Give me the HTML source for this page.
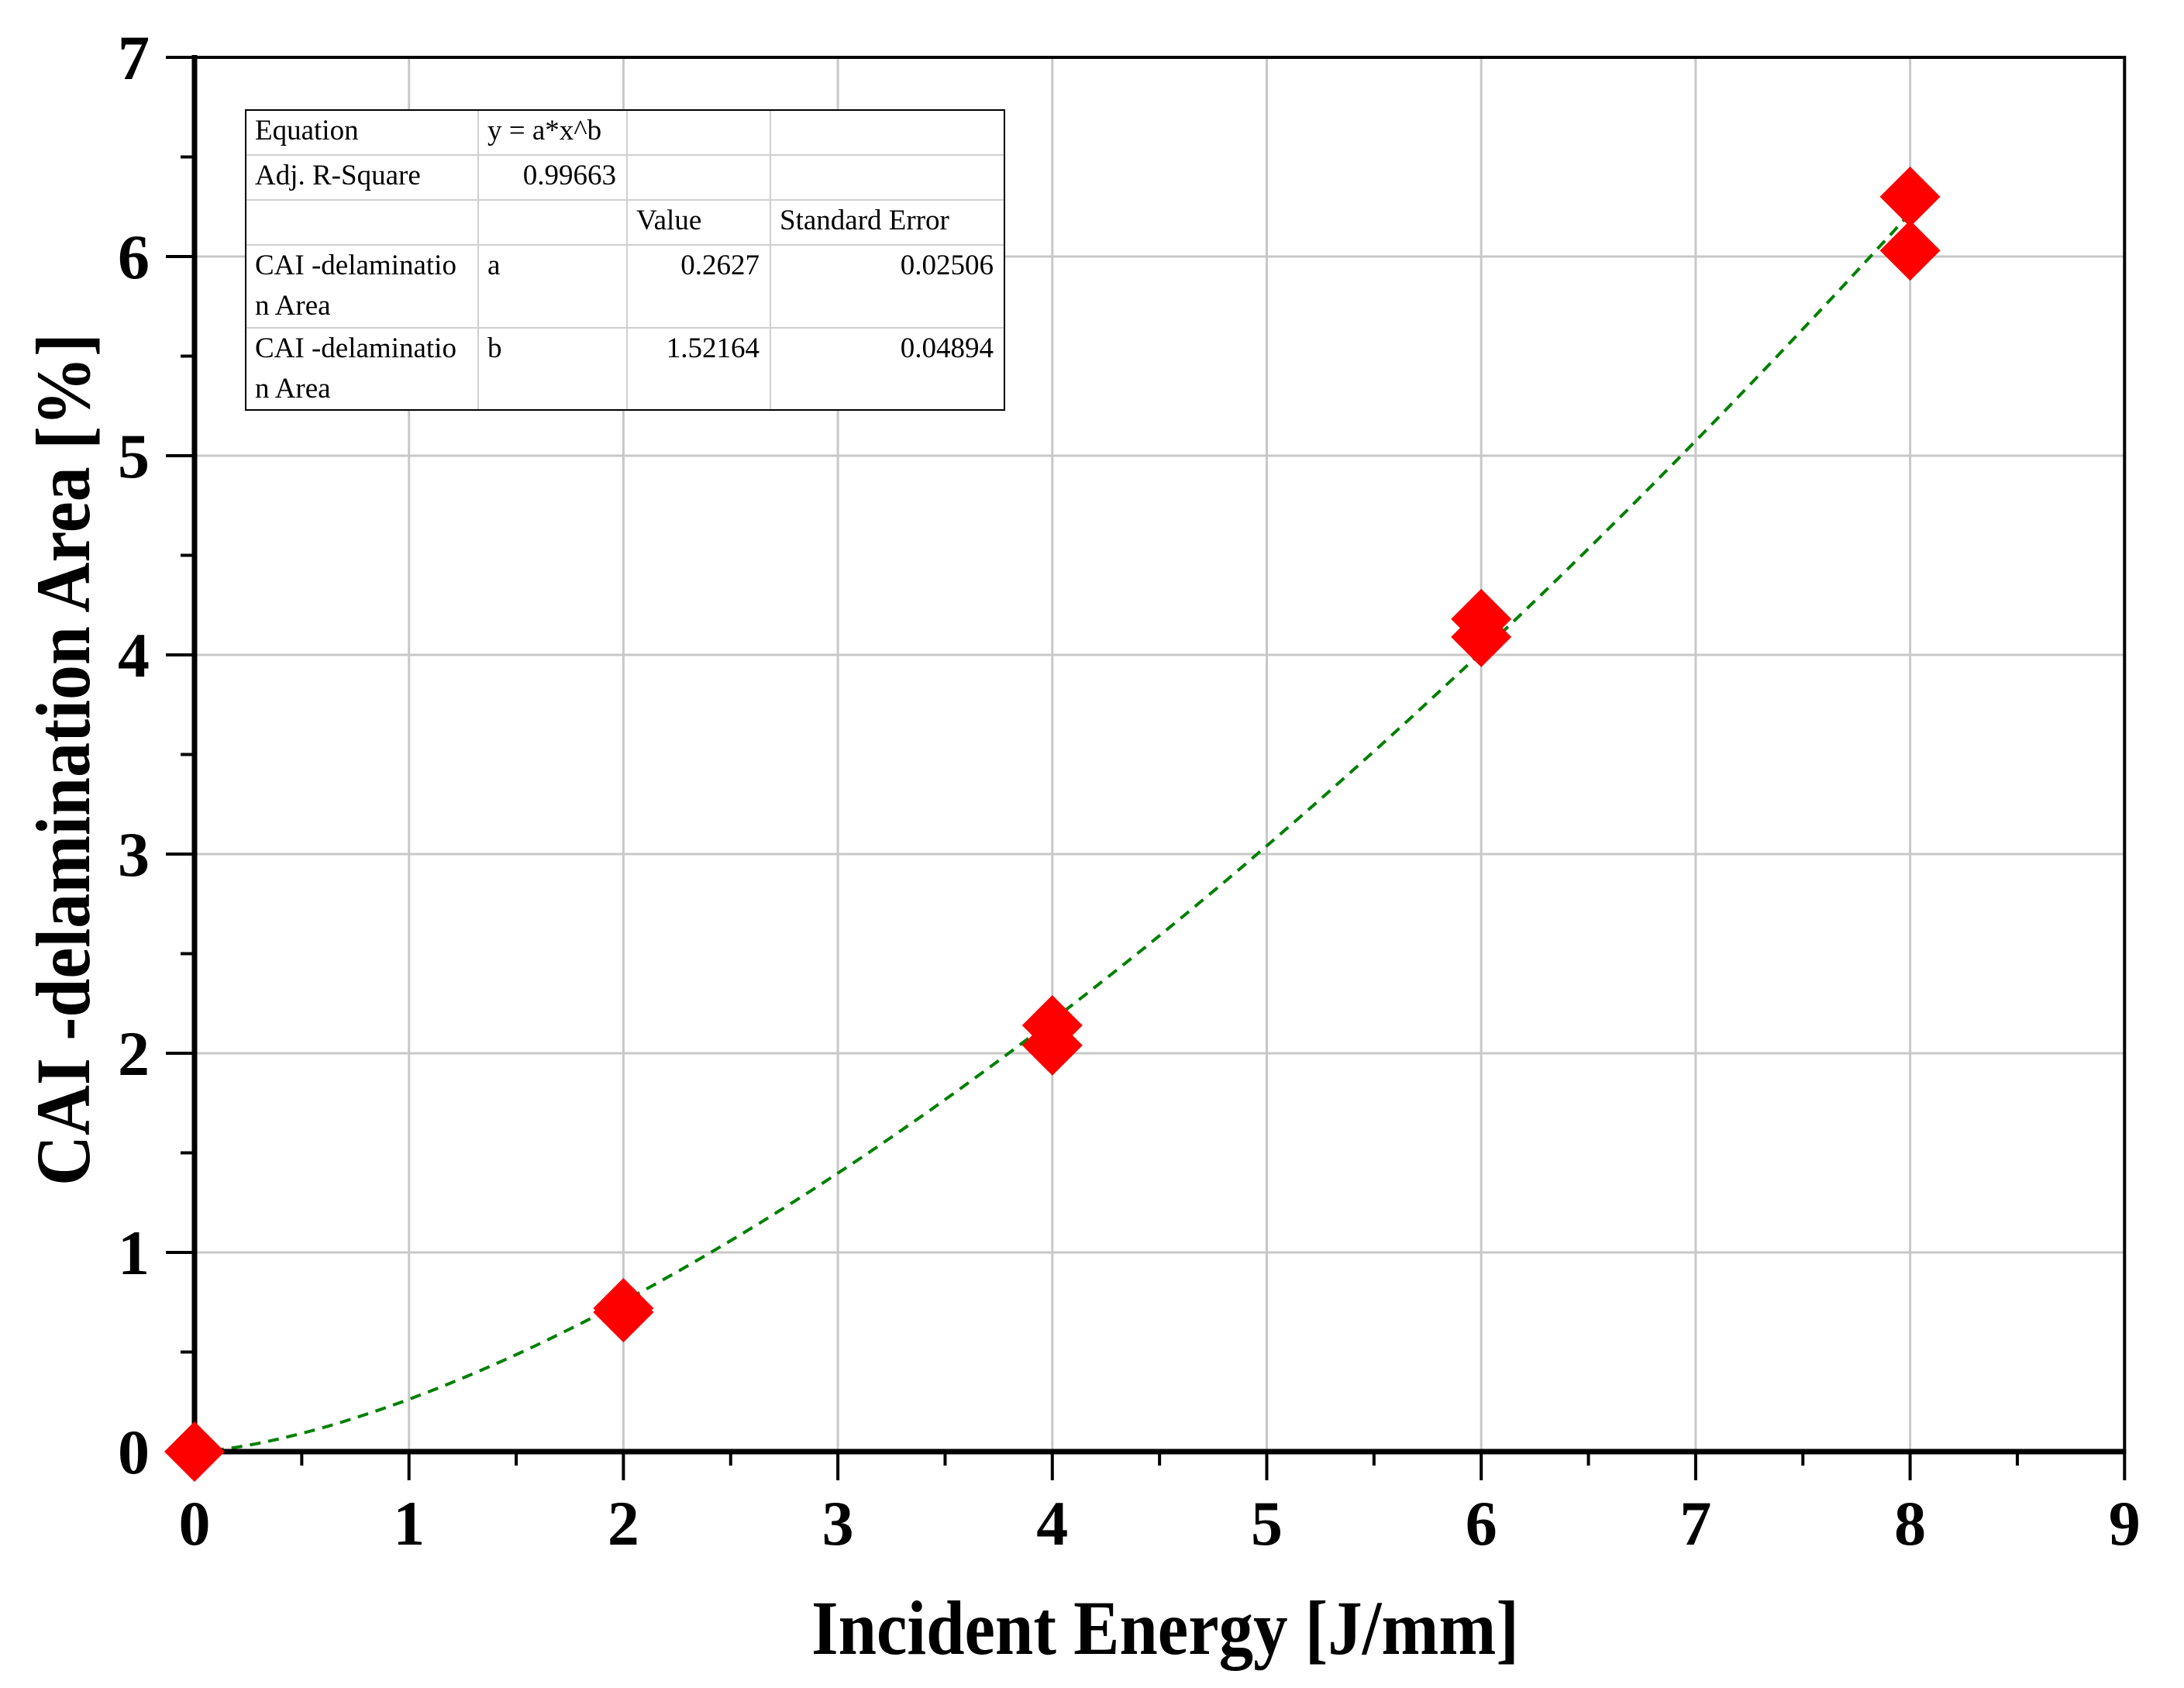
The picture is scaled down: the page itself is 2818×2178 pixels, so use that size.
<!DOCTYPE html>
<html><head><meta charset="utf-8"><style>
html,body{margin:0;padding:0;background:#fff;}
svg{display:block;}
</style></head><body>
<svg id="chart" width="2818" height="2178" viewBox="0 0 2818 2178" xmlns="http://www.w3.org/2000/svg" font-family="'Liberation Serif', serif">
<rect x="0" y="0" width="2818" height="2178" fill="#fff"/>
<g id="grid"></g>
<g id="fit"></g>
<g id="axes"></g>
<g id="points"></g>
<g id="table"></g>
<text x="1047" y="2134" font-size="100" font-weight="bold" textLength="913" lengthAdjust="spacingAndGlyphs">Incident Energy [J/mm]</text>
<text transform="translate(115,1530) rotate(-90)" font-size="100" font-weight="bold" textLength="1100" lengthAdjust="spacingAndGlyphs">CAI -delamination Area [%]</text>
</svg>
<script>
const xTicks = [0,1,2,3,4,5,6,7,8,9];
const yTicks = [0,1,2,3,4,5,6,7];
const xData = [0,2,2,4,4,6,6,8,8];
const yData = [0,0.72,0.70,2.14,2.04,4.18,4.09,6.30,6.03];
const fitA = [0.2627];
const fitB = [1.52164];

const NS='http://www.w3.org/2000/svg';
const X0=251, XU=276.7, Y0=1873, YU=257;
const sx=v=>X0+v*XU, sy=v=>Y0-v*YU;
function mk(tag,attrs,parent){const e=document.createElementNS(NS,tag);for(const k in attrs)e.setAttribute(k,attrs[k]);parent.appendChild(e);return e;}
const grid=document.getElementById('grid'), axes=document.getElementById('axes'), pts=document.getElementById('points'), fit=document.getElementById('fit'), tbl=document.getElementById('table');

xTicks.forEach(t=>{
  if(t>0&&t<9){const l=mk('line',{x1:sx(t),x2:sx(t),y1:sy(7),y2:sy(0),stroke:'#c8c8c8','stroke-width':3},grid);
  
  }
  const tk=mk('line',{x1:sx(t),x2:sx(t),y1:Y0,y2:Y0+37,stroke:'#000','stroke-width':4},axes);
  
  
  if(t<9){const m=mk('line',{x1:sx(t+0.5),x2:sx(t+0.5),y1:Y0,y2:Y0+18,stroke:'#000','stroke-width':4},axes);
  
  }
  const tx=mk('text',{x:sx(t),y:1993,'font-size':82,'font-weight':'bold','text-anchor':'middle'},axes);
  tx.textContent=t;
  
  
});
yTicks.forEach(t=>{
  if(t>0&&t<7){const l=mk('line',{x1:sx(0),x2:sx(9),y1:sy(t),y2:sy(t),stroke:'#c8c8c8','stroke-width':3},grid);
  
  }
  const tk=mk('line',{x1:X0-37,x2:X0,y1:sy(t),y2:sy(t),stroke:'#000','stroke-width':4},axes);
  
  
  if(t<7){const m=mk('line',{x1:X0-18,x2:X0,y1:sy(t+0.5),y2:sy(t+0.5),stroke:'#000','stroke-width':4},axes);
  
  }
  const tx=mk('text',{x:193,y:sy(t)+28,'font-size':82,'font-weight':'bold','text-anchor':'end'},axes);
  tx.textContent=t;
  
  
});
const fr=mk('rect',{x:sx(0),y:sy(7),width:sx(9)-sx(0),height:sy(0)-sy(7),fill:'none',stroke:'#000','stroke-width':4},axes);


const xa=mk('line',{x1:X0-3,x2:sx(9)+2,y1:Y0,y2:Y0,stroke:'#000','stroke-width':7},axes);


const ya=mk('line',{x1:X0,x2:X0,y1:sy(7)-3,y2:Y0+3,stroke:'#000','stroke-width':7},axes);



let d='';
for(let i=0;i<=200;i++){const x=8*i/200;const y=fitA[0]*Math.pow(x,fitB[0]);d+=(i?'L':'M')+sx(x).toFixed(1)+','+sy(y).toFixed(1);}
const fp=mk('path',{d:d,fill:'none',stroke:'#008000','stroke-width':4,'stroke-dasharray':'14,10'},fit);



xData.forEach((x,i)=>{
  const cx=sx(x),cy=sy(yData[i]),h=39;
  const p=mk('polygon',{points:`${cx},${cy-h} ${cx+h},${cy} ${cx},${cy+h} ${cx-h},${cy}`,fill:'#ff0000'},pts);
  
  
});

// table
const cols=[317,617,809,994,1296], rows=[142,200,258,316,423,529];
const bg=mk('rect',{x:317,y:142,width:979,height:387,fill:'#fff',stroke:'#000','stroke-width':2},tbl);


rows.slice(1,-1).forEach(r=>{const l=mk('line',{x1:318,x2:1295,y1:r,y2:r,stroke:'#d0d0d0','stroke-width':2},tbl);

});
cols.slice(1,-1).forEach(c=>{const l=mk('line',{x1:c,x2:c,y1:143,y2:528,stroke:'#d0d0d0','stroke-width':2},tbl);

});
const cells=[
 [0,0,'Equation','start'],[1,0,'y = a*x^b','start'],
 [0,1,'Adj. R-Square','start'],[1,1,'0.99663','end'],
 [2,2,'Value','start'],[3,2,'Standard Error','start'],
 [0,3,'CAI -delaminatio','start'],[1,3,'a','start'],[2,3,'0.2627','end'],[3,3,'0.02506','end'],
 [0,4,'CAI -delaminatio','start'],[1,4,'b','start'],[2,4,'1.52164','end'],[3,4,'0.04894','end']];
cells.forEach(c=>{
  const x=c[3]==='end'?cols[c[0]+1]-14:cols[c[0]]+12;
  const t=mk('text',{x:x,y:rows[c[1]]+38,'font-size':37,'text-anchor':c[3]},tbl);
  t.textContent=c[2];
  
  
});
[3,4].forEach(r=>{const t=mk('text',{x:cols[0]+12,y:rows[r]+90,'font-size':37},tbl);
t.textContent='n Area';

});
</script>
</body></html>
